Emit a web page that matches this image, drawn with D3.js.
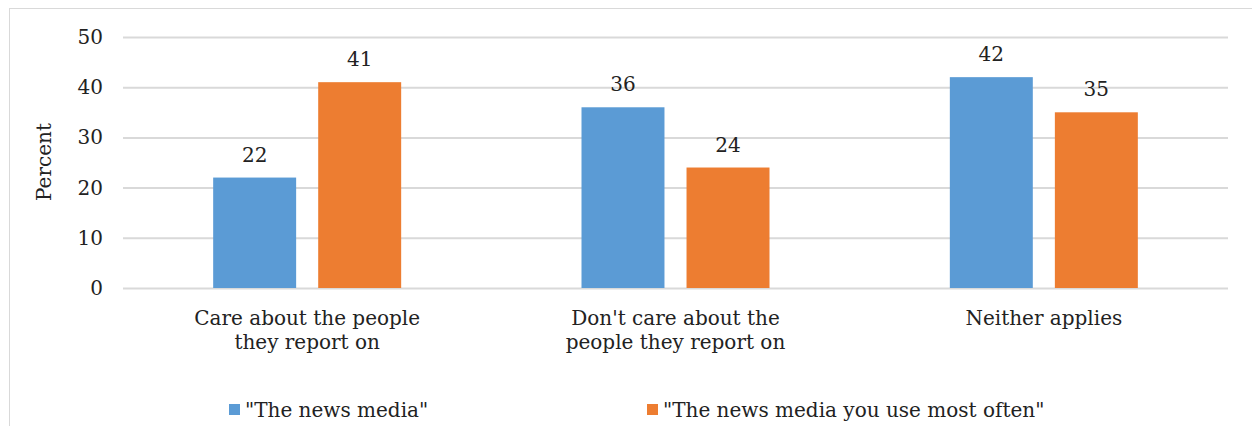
<!DOCTYPE html>
<html><head><meta charset="utf-8">
<script src="https://cdn.jsdelivr.net/npm/d3@7"></script>
<style>body{margin:0;background:#fff}svg{display:block}text{font-family:"DejaVu Serif",serif;fill:#222}</style>
</head><body><svg id="c" width="1252" height="426"></svg>
<script>
const categories = [["Care about the people","they report on"],["Don't care about the","people they report on"],["Neither applies"]];
const seriesNames = ['"The news media"','"The news media you use most often"'];
const newsMedia = [22,36,42];
const newsMediaYouUse = [41,24,35];
const yTicks = [0,10,20,30,40,50];
const colors = ["#5b9bd5","#ed7d31"];

const svg = d3.select("#c");
svg.append("rect").attr("x",9.5).attr("y",8.5).attr("width",1260).attr("height",430).attr("fill","none").attr("stroke","#d9d9d9");

const x0 = d3.scaleBand().domain(d3.range(categories.length)).range([123,1228]);
const y = d3.scaleLinear().domain([0,50]).range([288,37]);
const x1 = d3.scaleBand().domain([0,1]).range([-94,94]).paddingInner(0.21);

const g = svg.append("g");
const yAxis = d3.axisLeft(y).tickValues(yTicks).tickSize(-(1228-123)).tickPadding(20);
const ya = g.append("g").attr("transform","translate(123,0)").call(yAxis);
ya.select(".domain").remove();
ya.selectAll("line").attr("stroke","#d9d9d9").attr("stroke-width",2);
ya.selectAll("text").style("font-size","20px").attr("fill","#222").style("font-family","DejaVu Serif");

const series = [newsMedia, newsMediaYouUse];
series.forEach((vals,si)=>{
  vals.forEach((v,ci)=>{
    const cx = x0(ci)+x0.bandwidth()/2;
    const bx = cx + x1(si);
    g.append("rect").attr("x",bx).attr("y",y(v)).attr("width",x1.bandwidth()).attr("height",y(0)-y(v)).attr("fill",colors[si]);
    g.append("text").attr("x",bx+x1.bandwidth()/2).attr("y",y(v)-16).attr("text-anchor","middle").style("font-size","20px").text(v);
  });
});

categories.forEach((lines,ci)=>{
  const cx = x0(ci)+x0.bandwidth()/2;
  lines.forEach((l,li)=>{
    g.append("text").attr("x",cx).attr("y",325+li*24).attr("text-anchor","middle").style("font-size","20px").text(l);
  });
});

svg.append("text").attr("transform","translate(51,162) rotate(-90)").attr("text-anchor","middle").style("font-size","20px").text("Percent");

const legX = [229,647];
seriesNames.forEach((n,i)=>{
  svg.append("rect").attr("x",legX[i]).attr("y",404).attr("width",11).attr("height",11).attr("fill",colors[i]);
  svg.append("text").attr("x",legX[i]+16).attr("y",417).style("font-size","20px").text(n);
});
</script></body></html>
